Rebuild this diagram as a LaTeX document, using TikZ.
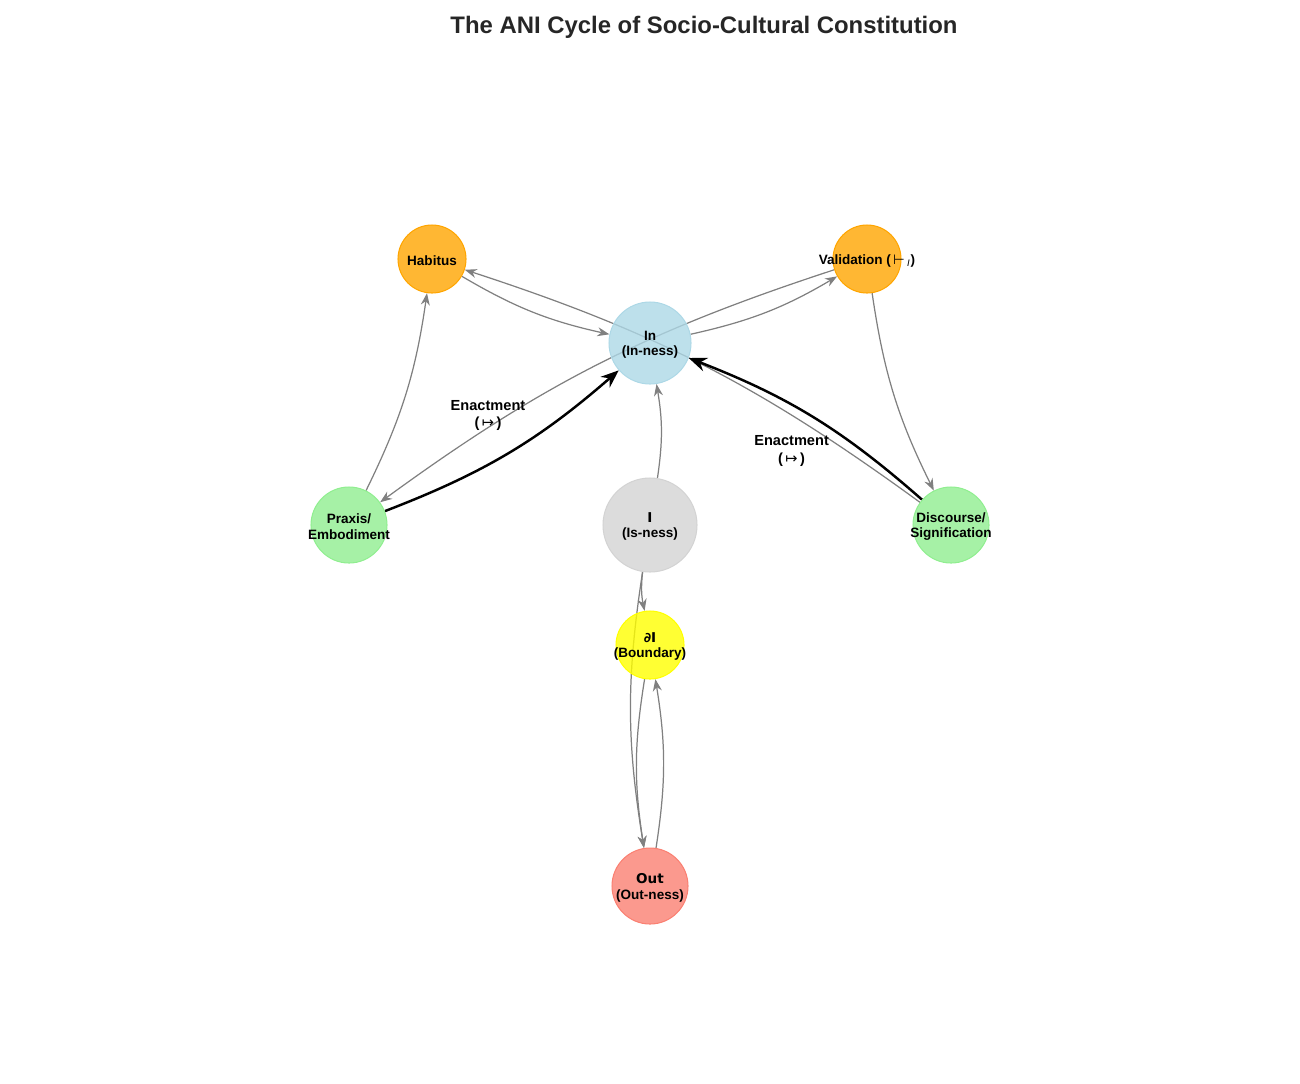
\documentclass[tikz,border=0pt]{standalone}
\usepackage{fontspec}
\setmainfont{Liberation Sans}
\newfontfamily\dejavu{DejaVu Sans}
\usepackage{tikz}
\usetikzlibrary{arrows.meta,positioning}
\definecolor{titleGray}{HTML}{262626}
\definecolor{habitusOrange}{HTML}{FFA500}
\definecolor{innessBlue}{HTML}{ADD8E6}
\definecolor{praxisGreen}{HTML}{90EE90}
\definecolor{isnessGray}{HTML}{D3D3D3}
\definecolor{boundaryYellow}{HTML}{FFFF00}
\definecolor{outnessSalmon}{HTML}{FA8072}
\pgfdeclarelayer{edges}
\pgfsetlayers{edges,main}

\begin{document}
\begin{tikzpicture}[x=0.02cm, y=0.02cm,
  stage/.style={circle, inner sep=0pt, minimum size=#1, fill opacity=0.8, line width=0.6pt},
  stagetext/.style={font=\bfseries\fontsize{7.7}{8.7}\selectfont, align=center, text=black, yshift=-1pt},
  flow/.style={-{Stealth[length=2.4mm, width=1.8mm]}, draw=gray, line width=0.7pt, bend right=9},
  enact/.style={-{Stealth[length=3.6mm, width=2.8mm]}, draw=black, line width=1.4pt, bend right=10},
  edgetext/.style={font=\bfseries\fontsize{8.3}{10}\selectfont, align=center, text=black}
]
\useasboundingbox (0,0) rectangle (1300,-1083);
\node[font=\bfseries\fontsize{13.6}{16}\selectfont, text=titleGray] (title) at (704,-27) {The ANI Cycle of Socio-Cultural Constitution};

\node[stage=1.36cm, fill=habitusOrange, draw=habitusOrange, label={[stagetext]center:Habitus}] (habitus) at (432,-259) {};
\node[stage=1.36cm, fill=habitusOrange, draw=habitusOrange, label={[stagetext]center:Validation (\,{\dejavu\mdseries ⊢}\,\textsubscript{\mdseries\itshape I})}] (validation) at (867,-259) {};
\node[stage=1.64cm, fill=innessBlue, draw=innessBlue, label={[stagetext]center:In\\(In-ness)}] (inness) at (650,-343) {};
\node[stage=1.52cm, fill=praxisGreen, draw=praxisGreen, label={[stagetext]center:Praxis/\\Embodiment}] (praxis) at (349,-525) {};
\node[stage=1.88cm, fill=isnessGray, draw=isnessGray, label={[stagetext]center:{\dejavu I}\\(Is-ness)}] (isness) at (650,-525) {};
\node[stage=1.52cm, fill=praxisGreen, draw=praxisGreen, label={[stagetext]center:Discourse/\\Signification}] (discourse) at (951,-525) {};
\node[stage=1.36cm, fill=boundaryYellow, draw=boundaryYellow, label={[stagetext]center:{\dejavu ∂I}\\(Boundary)}] (boundary) at (650,-645) {};
\node[stage=1.52cm, fill=outnessSalmon, draw=outnessSalmon, label={[stagetext]center:{\dejavu Out}\\(Out-ness)}] (outness) at (650,-886) {};

\begin{pgfonlayer}{edges}
\draw[flow] (habitus) to (inness);
\draw[flow] (discourse) to (habitus);
\draw[flow] (inness) to (validation);
\draw[flow] (validation) to (praxis);
\draw[flow] (praxis) to (habitus);
\draw[flow] (validation) to (discourse);
\draw[flow] (isness) to (inness);
\draw[flow] (isness) to (boundary);
\draw[flow] (isness) to (outness);
\draw[flow] (boundary) to (outness);
\draw[flow] (outness) to (boundary);
\draw[enact] (praxis) to node[edgetext, xshift=-0.42cm, yshift=0.74cm] (enactleft) {Enactment\\(\,{\dejavu\mdseries ↦}\,)} (inness);
\draw[enact] (discourse) to node[edgetext, xshift=-0.42cm, yshift=-0.68cm] (enactright) {Enactment\\(\,{\dejavu\mdseries ↦}\,)} (inness);
\end{pgfonlayer}
\end{tikzpicture}
\end{document}
